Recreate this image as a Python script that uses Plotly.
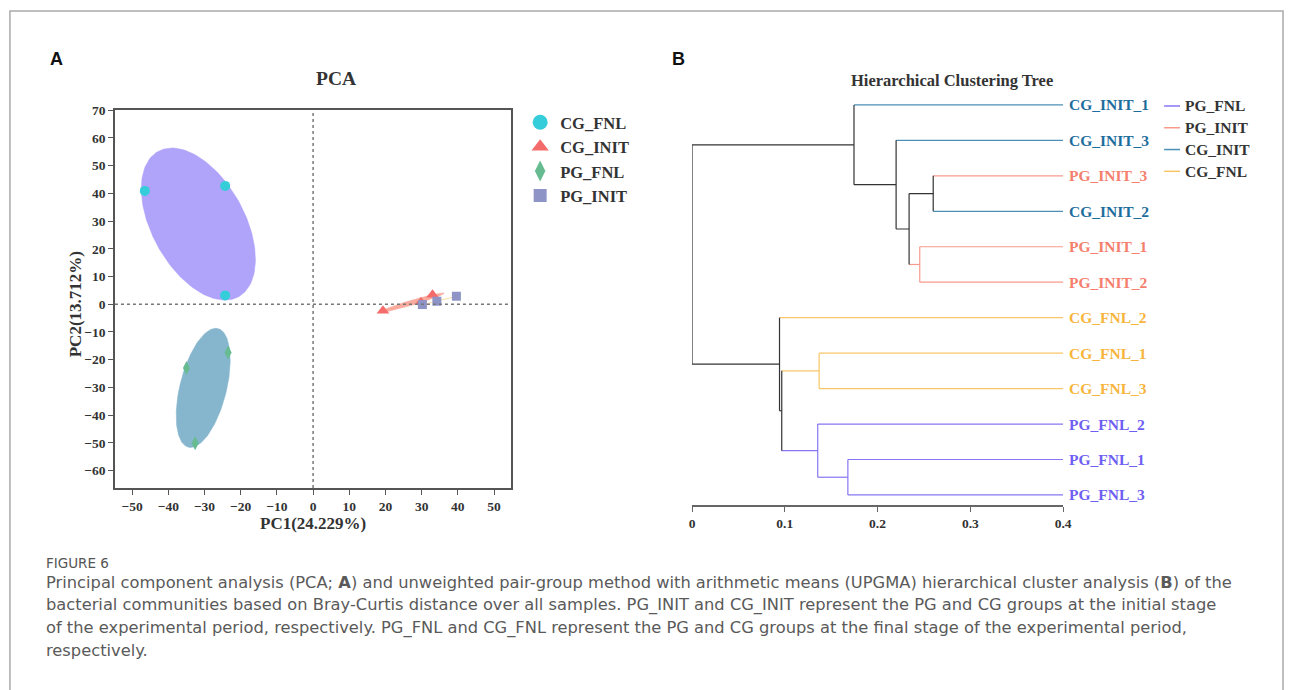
import numpy as np
import plotly.graph_objects as go

W, H = 1293, 690
def PX(x): return x / W
def PY(y): return 1 - y / H

SERIF = "Liberation Serif, Times New Roman, serif"
SANS = "DejaVu Sans, Noto Sans, sans-serif"

# ---------------- PCA data ----------------
groups = ["CG_FNL", "CG_INIT", "PG_FNL", "PG_INIT"]
pc1_cg_fnl = [-46.5, -24.3, -24.3]
pc2_cg_fnl = [40.9, 42.7, 3.2]
pc1_cg_init = [19.3, 29.8, 33.0]
pc2_cg_init = [-2.3, 0.7, 3.4]
pc1_pg_fnl = [-35.0, -23.5, -32.6]
pc2_pg_fnl = [-23.0, -17.4, -50.1]
pc1_pg_init = [30.2, 34.2, 39.6]
pc2_pg_init = [-0.1, 1.1, 2.9]
pc1_label = "PC1(24.229%)"
pc2_label = "PC2(13.712%)"
x_ticks = list(range(-50, 51, 10))
y_ticks = list(range(-60, 71, 10))

pca_series = {
    "CG_FNL": (pc1_cg_fnl, pc2_cg_fnl),
    "CG_INIT": (pc1_cg_init, pc2_cg_init),
    "PG_FNL": (pc1_pg_fnl, pc2_pg_fnl),
    "PG_INIT": (pc1_pg_init, pc2_pg_init),
}
marker_style = {
    "CG_FNL": dict(symbol="circle", color="#35cdda", size=10, lsize=15),
    "CG_INIT": dict(symbol="triangle-up", color="#f46b6b", size=11, lsize=15),
    "PG_FNL": dict(symbol="diamond-tall", color="#66bb91", size=10, lsize=15),
    "PG_INIT": dict(symbol="square", color="#8e95c6", size=9, lsize=13),
}
ellipse_color = {
    "CG_FNL": "#b0a3fa",
    "CG_INIT": "#f9aa9c",
    "PG_FNL": "#86b6cd",
    "PG_INIT": "#f8d690",
}

# ---------------- Dendrogram data ----------------
leaf_labels = ["CG_INIT_1", "CG_INIT_3", "PG_INIT_3", "CG_INIT_2", "PG_INIT_1", "PG_INIT_2",
               "CG_FNL_2", "CG_FNL_1", "CG_FNL_3", "PG_FNL_2", "PG_FNL_1", "PG_FNL_3"]
leaf_x = 0.4
merges = [  # (node, child_a, child_b, axis position)
    ("n0", "PG_INIT_3", "CG_INIT_2", 0.260),
    ("n1", "PG_INIT_1", "PG_INIT_2", 0.2455),
    ("n2", "n0", "n1", 0.234),
    ("n3", "CG_INIT_3", "n2", 0.220),
    ("n4", "CG_INIT_1", "n3", 0.1746),
    ("n5", "CG_FNL_1", "CG_FNL_3", 0.137),
    ("n6", "PG_FNL_1", "PG_FNL_3", 0.168),
    ("n7", "PG_FNL_2", "n6", 0.1355),
    ("n8", "n5", "n7", 0.0967),
    ("n9", "CG_FNL_2", "n8", 0.0943),
    ("root", "n4", "n9", 0.0),
]
dendro_ticks = [0, 0.1, 0.2, 0.3, 0.4]
dendro_ticktext = ["0", "0.1", "0.2", "0.3", "0.4"]
legend_order = ["PG_FNL", "PG_INIT", "CG_INIT", "CG_FNL"]
branch_color = {"PG_FNL": "#8676f4", "PG_INIT": "#f79a8c", "CG_INIT": "#4b90b6",
                "CG_FNL": "#f9c566", "mixed": "#333333"}
label_color = {"PG_FNL": "#6e5ef2", "PG_INIT": "#f57e6c", "CG_INIT": "#1d6d9c",
               "CG_FNL": "#f7b53d"}

caption_title = "FIGURE 6"
caption_lines = [
    "Principal component analysis (PCA; <b>A</b>) and unweighted pair-group method with arithmetic means (UPGMA) hierarchical cluster analysis (<b>B</b>) of the",
    "bacterial communities based on Bray-Curtis distance over all samples. PG_INIT and CG_INIT represent the PG and CG groups at the initial stage",
    "of the experimental period, respectively. PG_FNL and CG_FNL represent the PG and CG groups at the final stage of the experimental period,",
    "respectively.",
]

fig = go.Figure()

# ellipses
def conf_ellipse(xs, ys, k=1.23, n=160):
    pts = np.vstack([xs, ys])
    m = pts.mean(axis=1)
    vals, vecs = np.linalg.eigh(np.cov(pts))
    t = np.linspace(0, 2 * np.pi, n)
    circ = np.vstack([np.cos(t), np.sin(t)])
    e = vecs @ (np.sqrt(np.maximum(vals, 0))[:, None] * circ) * k + m[:, None]
    return e[0], e[1]

for g in ["CG_FNL", "PG_FNL", "CG_INIT", "PG_INIT"]:
    ex, ey = conf_ellipse(*pca_series[g])
    fig.add_trace(go.Scatter(x=ex, y=ey, mode="lines", fill="toself",
                             fillcolor=ellipse_color[g], line=dict(width=0.5, color=ellipse_color[g]),
                             showlegend=False, hoverinfo="skip", xaxis="x", yaxis="y"))

for g in ["CG_INIT", "PG_INIT", "CG_FNL", "PG_FNL"]:
    xs, ys = pca_series[g]
    st = marker_style[g]
    fig.add_trace(go.Scatter(x=xs, y=ys, mode="markers", name=g, showlegend=False,
                             marker=dict(symbol=st["symbol"], color=st["color"], size=st["size"],
                                         line=dict(width=0)),
                             xaxis="x", yaxis="y"))
# legend entries
for i, g in enumerate(groups):
    st = marker_style[g]
    fig.add_trace(go.Scatter(x=[None], y=[None], mode="markers", name=g, legendgroup=g,
                             marker=dict(symbol=st["symbol"], color=st["color"], size=st["lsize"],
                                         line=dict(width=0)),
                             xaxis="x", yaxis="y"))

# dendrogram layout
ypos = {lab: i for i, lab in enumerate(leaf_labels)}
xpos = {lab: leaf_x for lab in leaf_labels}
members = {lab: [lab.rsplit("_", 1)[0]] for lab in leaf_labels}
segs = {k: ([], []) for k in branch_color}
def grp(node):
    s = set(members[node])
    return members[node][0] if len(s) == 1 else "mixed"
for node, a, b, xv in merges:
    ypos[node] = (ypos[a] + ypos[b]) / 2
    xpos[node] = xv
    members[node] = members[a] + members[b]
    for c in (a, b):
        sx, sy = segs[grp(c)]
        sx += [xv, xpos[c], None]
        sy += [ypos[c], ypos[c], None]
    sx, sy = segs[grp(node)]
    sx += [xv, xv, None]
    sy += [ypos[a], ypos[b], None]

for k, (sx, sy) in segs.items():
    fig.add_trace(go.Scatter(x=sx, y=sy, mode="lines", showlegend=False, hoverinfo="skip",
                             line=dict(color=branch_color[k], width=1.2),
                             xaxis="x2", yaxis="y2"))

annotations = []
for lab in leaf_labels:
    g = lab.rsplit("_", 1)[0]
    annotations.append(dict(x=leaf_x, y=ypos[lab], xref="x2", yref="y2", text=lab,
                            xanchor="left", yanchor="middle", xshift=4, showarrow=False,
                            font=dict(family=SERIF, size=15.5, color=label_color[g], weight="bold")))

shapes = []
# dendrogram legend
for i, g in enumerate(legend_order):
    yy = 100 + i * 22
    shapes.append(dict(type="line", xref="paper", yref="paper", x0=PX(1172), x1=PX(1188),
                       y0=PY(yy), y1=PY(yy), line=dict(color=branch_color[g], width=1.5)))
    annotations.append(dict(x=PX(1191), y=PY(yy), xref="paper", yref="paper", text=g,
                            xanchor="left", yanchor="middle", showarrow=False,
                            font=dict(family=SERIF, size=15.5, color="#333333", weight="bold")))

# zero lines in PCA
shapes.append(dict(type="line", xref="x", yref="y domain", x0=0, x1=0, y0=0, y1=1,
                   line=dict(color="#777777", width=1.5, dash="dot")))
shapes.append(dict(type="line", xref="x domain", yref="y", x0=0, x1=1, y0=0, y1=0,
                   line=dict(color="#777777", width=1.5, dash="dot")))
# frame
shapes.append(dict(type="path", xref="paper", yref="paper",
                   path=f"M {PX(7)},{PY(H + 5)} L {PX(7)},{PY(4)} L {PX(1292)},{PY(4)} L {PX(1292)},{PY(H + 5)}",
                   line=dict(color="#aaaaaa", width=1.5)))

def ann(x, y, text, size, family=SERIF, bold=True, color="#333333", xanchor="center", angle=0):
    annotations.append(dict(x=PX(x), y=PY(y), xref="paper", yref="paper", text=text,
                            xanchor=xanchor, yanchor="middle", showarrow=False, textangle=angle,
                            font=dict(family=family, size=size, color=color,
                                      weight="bold" if bold else "normal")))

ann(54, 53, "A", 18, family="Liberation Sans, Arial, sans-serif", color="#111111")
ann(682, 53, "B", 18, family="Liberation Sans, Arial, sans-serif", color="#111111")
ann(336, 72, "PCA", 19.5)
ann(313, 522, pc1_label, 17)
ann(74, 300, pc2_label, 17, angle=-90)
ann(958, 74, "Hierarchical Clustering Tree", 16.5)
ann(41, 562, caption_title, 13.5, family=SANS, bold=False, color="#555555", xanchor="left")
for i, line in enumerate(caption_lines):
    ann(41, 581 + i * 23, line, 16.3, family=SANS, bold=False, color="#5a5a5a", xanchor="left")

tickfont = dict(family=SERIF, size=13.5, color="#333333", weight="bold")
fig.update_layout(
    width=W, height=H, autosize=False,
    margin=dict(l=0, r=0, t=0, b=0),
    paper_bgcolor="white", plot_bgcolor="white",
    xaxis=dict(domain=[PX(113), PX(513)], range=[-54.75, 54.75], tickvals=x_ticks,
               showgrid=False, zeroline=False, showline=True, mirror=True,
               linecolor="#555555", linewidth=1.5, ticks="outside", ticklen=5,
               tickcolor="#555555", tickfont=tickfont, anchor="y"),
    yaxis=dict(domain=[PY(486), PY(104)], range=[-66.3, 70.1], tickvals=y_ticks,
               showgrid=False, zeroline=False, showline=True, mirror=True,
               linecolor="#555555", linewidth=1.5, ticks="outside", ticklen=5,
               tickcolor="#555555", tickfont=tickfont, anchor="x"),
    xaxis2=dict(domain=[PX(695.5), PX(1070)], range=[0, 0.4], tickvals=dendro_ticks,
                ticktext=dendro_ticktext, showgrid=False, zeroline=False, showline=True,
                linecolor="#666666", linewidth=1.5, ticks="outside", ticklen=5,
                tickcolor="#666666", tickfont=tickfont, anchor="y2"),
    yaxis2=dict(domain=[PY(503), PY(81)], range=[11.28, -0.5], visible=False, anchor="x2"),
    legend=dict(x=PX(522), y=PY(99), xanchor="left", yanchor="top",
                font=dict(family=SERIF, size=16.5, color="#333333", weight="bold"),
                bgcolor="rgba(0,0,0,0)", tracegroupgap=0, itemsizing="trace"),
    annotations=annotations, shapes=shapes,
)

fig.write_html("out.html",
               post_script="document.body.style.margin='0';document.body.style.overflow='hidden';")
